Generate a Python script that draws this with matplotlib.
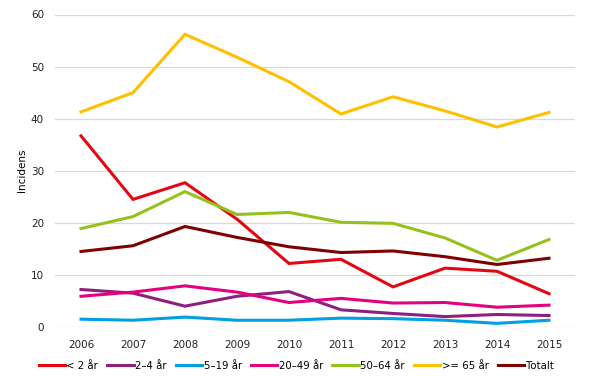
import matplotlib.pyplot as plt
import numpy as np

years = ['2006', '2007', '2008', '2009', '2010', '2011', '2012', '2013', '2014', '2015']
under2 = [36.7, 24.5, 27.7, 20.7, 12.2, 13.0, 7.7, 11.3, 10.7, 6.4]
age2_4 = [7.2, 6.5, 4.0, 5.9, 6.8, 3.3, 2.6, 2.0, 2.4, 2.2]
age5_19 = [1.5, 1.3, 1.9, 1.3, 1.3, 1.7, 1.6, 1.3, 0.7, 1.3]
age20_49 = [5.9, 6.7, 7.9, 6.7, 4.7, 5.5, 4.6, 4.7, 3.8, 4.2]
age50_64 = [18.9, 21.2, 26.0, 21.6, 22.0, 20.1, 19.9, 17.1, 12.8, 16.8]
age65 = [41.3, 45.0, 56.2, 51.8, 47.1, 40.9, 44.2, 41.5, 38.4, 41.2]
totalt = [14.5, 15.6, 19.3, 17.2, 15.4, 14.3, 14.6, 13.5, 12.0, 13.2]

labels = ['< 2 år', '2\u20134 år', '5\u201319 år', '20\u201349 år', '50\u201364 år', '>= 65 år', 'Totalt']
series = [under2, age2_4, age5_19, age20_49, age50_64, age65, totalt]
colors = ['#e30613', '#8e1f80', '#00a0e1', '#e5007d', '#95c11f', '#ffc000', '#7f0000']

fig = plt.figure(figsize=(5.9, 3.85), dpi=100)
ax = fig.add_axes([55/590, 1-327/385, 520/590, (327-14.5)/385])

x = np.arange(len(years))
for s, lab, c in zip(series, labels, colors):
    ax.plot(x, s, color=c, lw=2.2, label=lab, solid_joinstyle='miter')

ax.set_xlim(-0.5, 9.5)
ax.set_ylim(0, 60)
ax.set_yticks(range(0, 61, 10))
ax.set_xticks(x)
ax.set_xticklabels(years)
ax.grid(axis='y', color='#d9d9d9', lw=0.9)
ax.set_axisbelow(True)
for sp in ax.spines.values():
    sp.set_visible(False)
ax.tick_params(length=0, labelsize=7.5, colors='#222222')
ax.tick_params(axis='y', pad=8)
ax.tick_params(axis='x', pad=9)
ax.set_ylabel('Incidens', fontsize=7.5, labelpad=3)

fig.legend(loc='center', bbox_to_anchor=(296/590, 1-366/385), ncol=7, frameon=False,
           fontsize=7.3, handlelength=2.6, handletextpad=0.15, columnspacing=0.9)

fig.savefig('out.png', dpi=100)
